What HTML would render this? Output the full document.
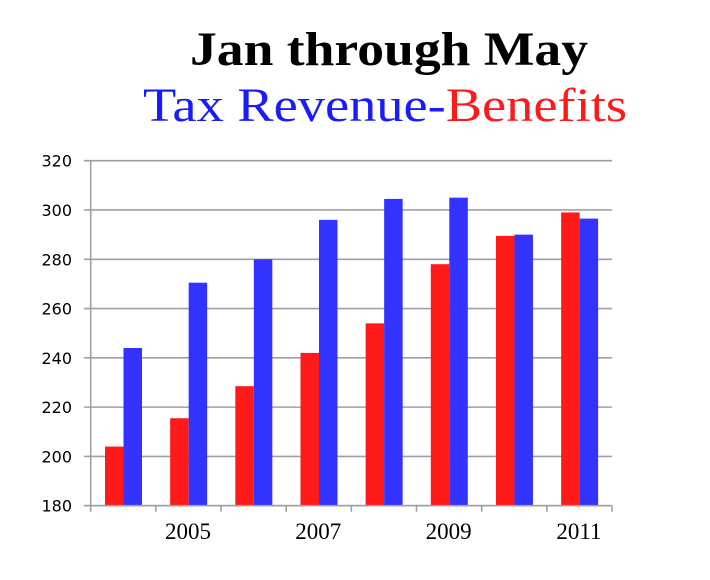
<!DOCTYPE html>
<html><head><meta charset="utf-8"><style>
body{margin:0;background:#fff;width:710px;height:575px;overflow:hidden}
</style></head><body>
<svg width="710" height="575">
<text x="190" y="65" textLength="398" lengthAdjust="spacingAndGlyphs" font-family="Liberation Serif, serif" font-weight="bold" font-size="48">Jan through May</text>
<text x="143" y="121" textLength="484" lengthAdjust="spacingAndGlyphs" font-family="Liberation Serif, serif" font-size="48"><tspan fill="#1a1aff">Tax Revenue-</tspan><tspan fill="#ff1a1a">Benefits</tspan></text>
<g id="grid"></g><g id="bars"></g><g id="axes"></g>
</svg>
<script>
const categories=[2004,2005,2006,2007,2008,2009,2010,2011];
const benefits=[204,215.5,228.5,242,254,278,289.5,299];
const taxRevenue=[244,270.5,280,296,304.5,305,290,296.5];
const yTicks=[180,200,220,240,260,280,300,320];
const xLabels=["","2005","","2007","","2009","","2011"];
const NS="http://www.w3.org/2000/svg";
const x0=90.7,x1=612,y0=505.7,y1=160.7,ymin=180,ymax=320;
const gw=(x1-x0)/categories.length;
function y(v){return y0-(v-ymin)/(ymax-ymin)*(y0-y1);}
function mk(t,a,p){const e=document.createElementNS(NS,t);for(const k in a)e.setAttribute(k,a[k]);p.appendChild(e);return e;}
const grid=document.getElementById('grid'),bars=document.getElementById('bars'),axes=document.getElementById('axes');
yTicks.forEach(v=>{
 const l=mk('line',{x1:84,x2:x1,y1:y(v),y2:y(v),stroke:'#a0a0a0','stroke-width':1.6},grid);
 
 
 const t=mk('text',{x:72,y:y(v)+6,'text-anchor':'end','font-family':'DejaVu Sans, sans-serif','font-size':16},axes);
 t.textContent=v;
 
 
});
categories.forEach((c,i)=>{
 const gx=x0+i*gw;
 const r=mk('rect',{x:gx+14.3,width:18.5,y:y(benefits[i]),height:y0-y(benefits[i]),fill:'#ff1a1a'},bars);
 
 
 const b=mk('rect',{x:gx+32.8,width:18.5,y:y(taxRevenue[i]),height:y0-y(taxRevenue[i]),fill:'#3333ff'},bars);
 
 
 const tk=mk('line',{x1:gx,x2:gx,y1:y0,y2:y0+6,stroke:'#a0a0a0','stroke-width':1.6},axes);
 
 
 if(xLabels[i]){
  const t=mk('text',{x:gx+gw/2-0.5,y:539,'text-anchor':'middle','font-family':'Liberation Serif, serif','font-size':23},axes);
  t.textContent=xLabels[i];
  
  
 }
});
const tk=mk('line',{x1:x1,x2:x1,y1:y0,y2:y0+6,stroke:'#a0a0a0','stroke-width':1.6},axes);


const ya=mk('line',{x1:x0,x2:x0,y1:y1,y2:y0+6,stroke:'#a0a0a0','stroke-width':1.6},axes);


const xa=mk('line',{x1:84,x2:x1,y1:y0,y2:y0,stroke:'#a0a0a0','stroke-width':1.6},axes);


</script>
</body></html>
